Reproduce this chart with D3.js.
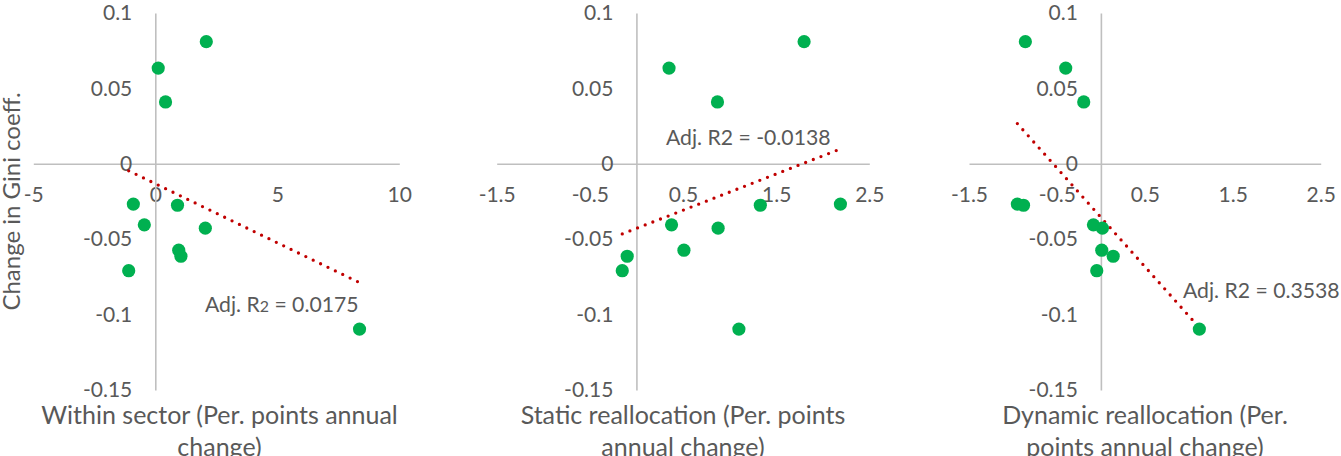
<!DOCTYPE html>
<html>
<head>
<meta charset="utf-8">
<script src="https://cdn.jsdelivr.net/npm/d3@7"></script>
<style>
  html, body { margin: 0; padding: 0; background: #ffffff; }
  svg { display: block; font-family: Lato, "Open Sans", sans-serif; }
  .tick text { fill: #595959; }
</style>
</head>
<body>
<svg id="chart" width="1341" height="456"></svg>
<script>
// Change in the Gini coefficient for each of the 11 economies
const giniChange = [0.081, 0.0635, 0.041, -0.0267, -0.0275, -0.0405, -0.0427, -0.0573, -0.0613, -0.0709, -0.1096];

// Productivity growth components (percentage points, annual change), same order
const withinSector   = [2.09, 0.12, 0.42, -0.90, 0.91, -0.45, 2.05, 0.96, 1.05, -1.09, 8.37];
const staticRealloc  = [1.80, 0.35, 0.87, 2.19, 1.33, 0.377, 0.877, 0.51, -0.099, -0.152, 1.10];
const dynamicRealloc = [-0.859, -0.40, -0.195, -0.95, -0.88, -0.085, 0.017, 0.01, 0.14, -0.047, 1.12];

// Axis ticks
const yTicks = [-0.15, -0.1, -0.05, 0, 0.05, 0.1];
const xTicksWithin = [-5, 0, 5, 10];
const xTicksRealloc = [-1.5, -0.5, 0.5, 1.5, 2.5];

// Titles and fit labels
const yTitle = "Change in Gini coeff.";
const xTitles = [
  ["Within sector (Per. points annual", "change)"],
  ["Static reallocation (Per. points", "annual change)"],
  ["Dynamic reallocation (Per.", "points annual change)"]
];
const fitLabels = [
  ["Adj. R", "2", " = 0.0175"],
  ["Adj. R", "2", " = -0.0138"],
  ["Adj. R", "2", " = 0.3538"]
];

const TEXT = "#595959";
const AXIS = "#bfbfbf";
const DOT = "#00b050";
const FIT = "#c00000";
const TICK_FS = 21;
const LABEL_FS = 21.2;
const TITLE_FS = 25;

const svg = d3.select("#chart");

const y = d3.scaleLinear().domain([-0.15, 0.1]).range([390, 13]);

const panels = [
  { xs: withinSector,   domain: [-5, 10],    ticks: xTicksWithin,  range: [33.3, 399.3], titleX: 219.5, fit: { x: 205, y: 305, smallSub: true } },
  { xs: staticRealloc,  domain: [-1.5, 2.5], ticks: xTicksRealloc, range: [496.7, 869.3], titleX: 683, fit: { x: 666, y: 138, smallSub: false } },
  { xs: dynamicRealloc, domain: [-1.5, 2.5], ticks: xTicksRealloc, range: [969, 1320.7], titleX: 1145, fit: { x: 1183, y: 291, smallSub: false } }
];

// Ordinary least squares fit
function linearFit(xs, ys) {
  const mx = d3.mean(xs), my = d3.mean(ys);
  let sxy = 0, sxx = 0;
  xs.forEach((v, i) => { sxy += (v - mx) * (ys[i] - my); sxx += (v - mx) * (v - mx); });
  const b = sxy / sxx;
  return { slope: b, intercept: my - b * mx };
}

panels.forEach((p, pi) => {
  const x = d3.scaleLinear().domain(p.domain).range(p.range);
  const g = svg.append("g");

  // Horizontal axis through y = 0
  const xAxis = d3.axisBottom(x)
    .tickValues(p.ticks)
    .tickFormat(d => String(d))
    .tickSize(0)
    .tickSizeOuter(0);
  const gx = g.append("g").attr("transform", `translate(0,${y(0)})`).call(xAxis);
  gx.select(".domain").attr("stroke", AXIS).attr("stroke-width", 1.6);
  gx.selectAll(".tick text")
    .attr("y", 31).attr("dy", "0.35em")
    .attr("font-size", TICK_FS).attr("font-family", "Lato");

  // Vertical axis through x = 0
  const yAxis = d3.axisLeft(y)
    .tickValues(yTicks)
    .tickFormat(d => String(d))
    .tickSize(0)
    .tickSizeOuter(0)
    .tickPadding(23);
  const gy = g.append("g").attr("transform", `translate(${x(0)},0)`).call(yAxis);
  gy.select(".domain").attr("stroke", AXIS).attr("stroke-width", 1.6);
  gy.selectAll(".tick text")
    .attr("dy", "0.32em")
    .attr("font-size", TICK_FS).attr("font-family", "Lato");

  // Linear trend line across the data range
  const fit = linearFit(p.xs, giniChange);
  const [x0, x1] = d3.extent(p.xs);
  const line = d3.line().x(d => x(d)).y(d => y(fit.intercept + fit.slope * d));
  g.append("path")
    .datum([x0, x1])
    .attr("d", line)
    .attr("fill", "none")
    .attr("stroke", FIT)
    .attr("stroke-width", 3.3)
    .attr("stroke-linecap", "round")
    .attr("stroke-dasharray", "0 8.2");

  // Scatter points
  g.selectAll("circle.pt")
    .data(p.xs.map((v, i) => [v, giniChange[i]]))
    .join("circle")
    .attr("class", "pt")
    .attr("cx", d => x(d[0]))
    .attr("cy", d => y(d[1]))
    .attr("r", 6.6)
    .attr("fill", DOT);

  // Fit label
  const lab = fitLabels[pi];
  const t = g.append("text")
    .attr("x", p.fit.x).attr("y", p.fit.y).attr("dy", "0.35em")
    .attr("fill", TEXT).attr("font-size", LABEL_FS);
  t.append("tspan").text(lab[0]);
  t.append("tspan").attr("font-size", p.fit.smallSub ? LABEL_FS * 0.75 : LABEL_FS).text(lab[1]);
  t.append("tspan").text(lab[2]);

  // Horizontal axis title (two lines)
  g.append("text")
    .attr("text-anchor", "middle")
    .attr("fill", TEXT)
    .attr("font-size", TITLE_FS)
    .selectAll("tspan")
    .data(xTitles[pi])
    .join("tspan")
    .attr("x", p.titleX)
    .attr("y", (d, i) => 415 + i * 32)
    .attr("dy", "0.35em")
    .text(d => d);
});

// Shared vertical axis title
svg.append("text")
  .attr("transform", `translate(12,${(y(0.1) + y(-0.15)) / 2}) rotate(-90)`)
  .attr("text-anchor", "middle")
  .attr("dy", "0.35em")
  .attr("fill", TEXT)
  .attr("font-size", TITLE_FS * 0.96)
  .text(yTitle);
</script>
</body>
</html>
